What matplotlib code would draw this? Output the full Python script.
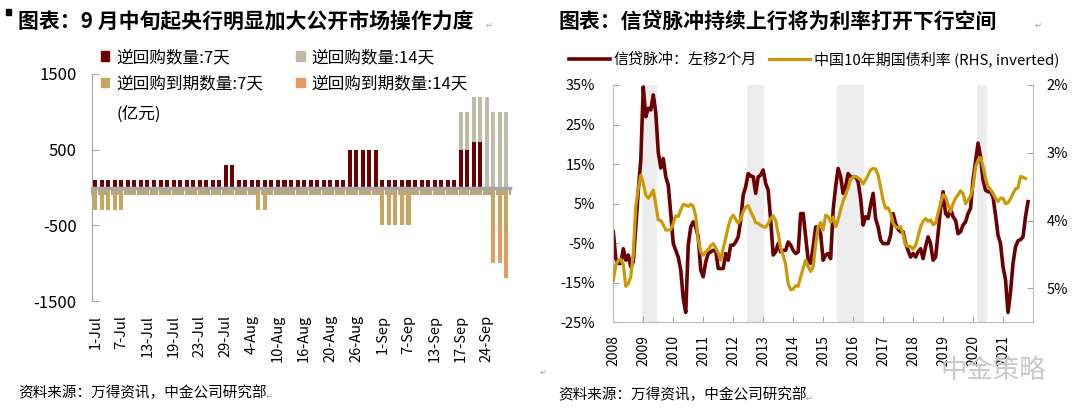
import matplotlib
matplotlib.use('Agg')
import matplotlib.pyplot as plt
from matplotlib.patches import Patch, Rectangle
from matplotlib.lines import Line2D
import numpy as np

plt.rcParams['font.family'] = ['Noto Sans CJK SC', 'DejaVu Sans']
plt.rcParams['axes.unicode_minus'] = False

# ---- left chart: OMO reverse repo (亿元), trading days Jul-Sep 2021
trade_dates = ['1-Jul', '2-Jul', '5-Jul', '6-Jul', '7-Jul', '8-Jul', '9-Jul', '12-Jul',
               '13-Jul', '14-Jul', '15-Jul', '16-Jul', '19-Jul', '20-Jul', '21-Jul', '22-Jul',
               '23-Jul', '26-Jul', '27-Jul', '28-Jul', '29-Jul', '30-Jul',
               '2-Aug', '3-Aug', '4-Aug', '5-Aug', '6-Aug', '9-Aug', '10-Aug', '11-Aug',
               '12-Aug', '13-Aug', '16-Aug', '17-Aug', '18-Aug', '19-Aug', '20-Aug', '23-Aug',
               '24-Aug', '25-Aug', '26-Aug', '27-Aug', '30-Aug', '31-Aug',
               '1-Sep', '2-Sep', '3-Sep', '6-Sep', '7-Sep', '8-Sep', '9-Sep', '10-Sep',
               '13-Sep', '14-Sep', '15-Sep', '16-Sep', '17-Sep', '18-Sep', '22-Sep', '23-Sep',
               '24-Sep', '26-Sep', '27-Sep', '28-Sep']
rr7 = [100] * 20 + [300, 300] + [100] * 17 + [500] * 5 + [100] * 12 + [500, 500, 600, 600] + [0] * 4
rr14 = [0] * 56 + [500, 500, 600, 600, 1200, 1000, 1000, 1000]
mat7 = [-300] * 5 + [-100] * 20 + [-300, -300] + [-100] * 17 + [-500] * 5 + [-100] * 12 + [-500, -500, -600]
mat14 = [0] * 61 + [-500, -500, -600]

# ---- right chart: credit impulse (shifted 2m) and 10y CGB yield, monthly from 2008-01
credit_impulse = [
    -2.1, -8.9, -10.1, -10.1, -6.4, -9.3, -8.0, -11.0, -9.7, -0.9, 8.4, 16.0,
    34.5, 27.0, 29.1, 28.7, 32.5, 28.0, 18.0, 14.0, 16.4, 11.8, 9.7, 2.5,
    -5.1, -6.8, -8.5, -11.8, -19.0, -22.5, -5.5, -0.9, 0.4, -0.9, -3.4, -11.8,
    -13.5, -9.7, -7.6, -7.2, -6.8, -6.8, -11.4, -11.4, -11.4, -7.6, -9.3, -5.5,
    -5.5, -4.7, -3.4, 0.8, 7.2, 9.3, 12.6, 12.0, 11.8, 7.6, 11.8, 12.2,
    13.5, 10.1, 8.4, 0.8, -8.0, -7.2, -5.1, -7.2, -6.8, -6.8, -4.7, -5.5,
    -6.8, -7.6, -7.2, 2.5, 2.5, -3.4, -9.3, -10.1, -5.9, -0.9, -0.9, -2.6,
    -9.3, -8.0, -7.6, -8.9, 3.4, 9.3, 13.9, 11.8, 7.6, 9.3, 12.6, 11.8,
    11.8, 11.8, 10.5, 6.3, -0.4, 1.7, 1.2, 4.6, 7.6, 1.2, -0.9, -4.2,
    -5.1, -5.1, -5.1, -3.0, 2.5, 0.0, -1.5, -2.1, -2.1, -5.1, -6.8, -8.5,
    -7.6, -8.5, -7.2, -6.4, -8.9, -5.9, -3.4, -5.1, -9.3, -8.5, -2.6, 3.8,
    8.0, 2.5, 1.7, 3.8, 1.7, 0.8, -2.6, -2.1, -0.4, 0.4, 2.5, 3.8,
    11.0, 15.6, 20.3, 16.9, 11.0, 8.4, 8.0, 8.0, 6.7, 2.1, -3.0, -5.1,
    -11.0, -14.2, -22.5, -17.3, -10.1, -5.9, -4.4, -4.1, -3.4, 1.7, 5.5]
cgb10y = [
    4.88, 4.65, 4.59, 4.57, 4.65, 4.97, 4.93, 4.83, 4.48, 3.79, 3.52, 3.33,
    3.45, 3.62, 3.67, 3.62, 3.55, 3.76, 3.99, 4.00, 4.06, 4.14, 4.14, 4.13,
    4.04, 3.93, 3.94, 3.84, 3.76, 3.77, 3.79, 3.76, 3.79, 3.94, 4.29, 4.46,
    4.51, 4.46, 4.43, 4.37, 4.34, 4.40, 4.48, 4.58, 4.41, 4.26, 4.09, 3.97,
    3.92, 3.98, 4.04, 3.98, 3.87, 3.80, 3.78, 3.87, 3.94, 4.03, 4.04, 4.07,
    4.09, 4.10, 4.04, 3.97, 3.93, 4.00, 4.19, 4.41, 4.51, 4.65, 4.93, 5.02,
    5.01, 4.96, 4.97, 4.83, 4.70, 4.58, 4.68, 4.75, 4.68, 4.36, 4.09, 4.03,
    4.14, 3.92, 3.94, 4.02, 3.95, 4.09, 3.98, 3.84, 3.71, 3.62, 3.52, 3.40,
    3.35, 3.35, 3.37, 3.40, 3.46, 3.40, 3.33, 3.25, 3.23, 3.24, 3.33, 3.51,
    3.70, 3.82, 3.81, 3.89, 4.04, 4.09, 4.11, 4.09, 4.20, 4.36, 4.38, 4.38,
    4.42, 4.37, 4.23, 4.09, 4.01, 3.97, 4.01, 3.99, 4.06, 4.04, 3.89, 3.74,
    3.62, 3.65, 3.77, 3.87, 3.75, 3.67, 3.62, 3.56, 3.60, 3.75, 3.70, 3.64,
    3.50, 3.21, 3.11, 3.07, 3.20, 3.38, 3.50, 3.54, 3.60, 3.67, 3.72, 3.67,
    3.67, 3.75, 3.74, 3.68, 3.60, 3.53, 3.52, 3.35, 3.36, 3.38]
shade_periods = [(2008.96, 2009.46), (2012.47, 2013.03), (2015.47, 2016.37), (2020.13, 2020.45)]
years = list(range(2008, 2022))

C7 = '#6B0000'
C14 = '#BEBCA9'
CM7 = '#C9A65F'
CM14 = '#E89A63'
GOLD = '#CC9A06'
GRID = '#A6A6A6'
W, H = 1080, 412

fig = plt.figure(figsize=(10.8, 4.12), dpi=100)

# ================= left chart =================
ax = fig.add_axes([92 / W, 111 / H, 418 / W, 227 / H])
idx = np.arange(len(trade_dates))
bw = 0.62
ax.bar(idx, rr7, bw, color=C7, zorder=1)
ax.bar(idx, rr14, bw, bottom=rr7, color=C14, zorder=1)
ax.bar(idx, mat7, bw, color=CM7, zorder=1)
ax.bar(idx, mat14, bw, bottom=mat7, color=CM14, zorder=1)

ax.set_xlim(-0.45, len(idx) - 0.45)
ax.set_ylim(-1500, 1500)
ax.set_yticks([-1500, -500, 500, 1500])
ax.tick_params(axis='y', direction='in', length=5, color=GRID, labelsize=12, pad=11)
for s in ['top', 'right']:
    ax.spines[s].set_visible(False)
ax.spines['left'].set_color(GRID)
ax.spines['bottom'].set_position(('data', 0))
ax.spines['bottom'].set_color(GRID)
ax.spines['bottom'].set_linewidth(2.5)
ax.set_xticks(np.arange(len(idx) + 1) - 0.5)
ax.tick_params(axis='x', direction='out', length=5, width=1.6, color=GRID, labelbottom=False)

sec = ax.secondary_xaxis('bottom')
sec.set_xticks(idx[::4])
sec.set_xticklabels(trade_dates[::4], rotation=90)
sec.spines['bottom'].set_visible(False)
sec.tick_params(length=0, pad=10, labelsize=10.5)

ax.text(117 / W, 1 - 115 / H, '(亿元)', transform=fig.transFigure, fontsize=12, va='center')

lh = [Patch(color=C7), Patch(color=CM7), Patch(color=C14), Patch(color=CM14)]
ll = ['逆回购数量:7天', '逆回购到期数量:7天', '逆回购数量:14天', '逆回购到期数量:14天']
fig.legend(lh, ll, ncol=2, loc='upper left', bbox_to_anchor=(101 / W, 1 - 49 / H),
           frameon=False, fontsize=12, handlelength=0.5, handleheight=0.5,
           handletextpad=0.4, columnspacing=2.0, labelspacing=0.55,
           borderpad=0, borderaxespad=0)

# ================= right chart =================
bx = fig.add_axes([613.3 / W, 89.7 / H, 419.7 / W, 237.3 / H])
t1 = 2008 + np.arange(len(credit_impulse)) / 12
t2 = 2008 + np.arange(len(cgb10y)) / 12
for a, b in shade_periods:
    bx.axvspan(a, b, color='#EDEDED', lw=0, zorder=0)
bx.plot(t1, credit_impulse, color=C7, lw=2.6, zorder=2)
bx.set_xlim(2008, 2022)
bx.set_ylim(-25, 35)
bx.set_yticks(range(-25, 36, 10))
bx.set_yticklabels([f'{v}%' for v in range(-25, 36, 10)])
bx.set_xticks(years)
bx.set_xticklabels([str(y) for y in years], rotation=90)
bx.tick_params(axis='y', direction='in', length=4, color=GRID, labelsize=10.5, pad=13)
bx.tick_params(axis='x', direction='in', length=4, color=GRID, labelsize=10, pad=9)
bx.spines['top'].set_visible(False)
for s in ['left', 'bottom', 'right']:
    bx.spines[s].set_color('#BFBFBF')

bx2 = bx.twinx()
bx2.plot(t2, cgb10y, color=GOLD, lw=2.3, zorder=3)
bx2.set_ylim(5.5, 2)
bx2.set_yticks([2, 3, 4, 5])
bx2.set_yticklabels(['2%', '3%', '4%', '5%'])
bx2.tick_params(axis='y', direction='in', length=4, color=GRID, labelsize=10.5, pad=10)
bx2.spines['top'].set_visible(False)
for s in ['left', 'bottom', 'right']:
    bx2.spines[s].set_color('#BFBFBF')

rh = [Line2D([], [], color=C7, lw=2.6), Line2D([], [], color=GOLD, lw=2.3)]
rl = ['信贷脉冲：左移2个月', '中国10年期国债利率 (RHS, inverted)']
fig.legend(rh, rl, ncol=2, loc='upper left', bbox_to_anchor=(569 / W, 1 - 51 / H),
           frameon=False, fontsize=10.8, handlelength=2.7, handletextpad=0.3,
           columnspacing=0.8, borderpad=0, borderaxespad=0)

# ================= titles / notes =================
fig.add_artist(Rectangle((6 / W, 1 - 15 / H), 5 / W, 6 / H, transform=fig.transFigure,
                         color='black'))
fig.text(18 / W, 1 - 21 / H, '图表：9 月中旬起央行明显加大公开市场操作力度',
         fontsize=15, fontweight='bold', va='center')
fig.text(558 / W, 1 - 21 / H, '图表：信贷脉冲持续上行将为利率打开下行空间',
         fontsize=15, fontweight='bold', va='center')
fig.text(18 / W, 1 - 393 / H, '资料来源：万得资讯，中金公司研究部', fontsize=10.5, va='center')
fig.text(558 / W, 1 - 395 / H, '资料来源：万得资讯，中金公司研究部', fontsize=10.5, va='center')
fig.text(940 / W, 1 - 370 / H, '中金策略', fontsize=19, color='#C9C9C9', va='center', zorder=0)

for px, py in [(486, 25), (1035, 25), (266, 396), (806, 398), (540, 372)]:
    fig.text(px / W, 1 - py / H, '↵', fontsize=6, color='#A0A0A0', va='center',
             family=['DejaVu Sans'])

fig.savefig('out.png', dpi=100)
